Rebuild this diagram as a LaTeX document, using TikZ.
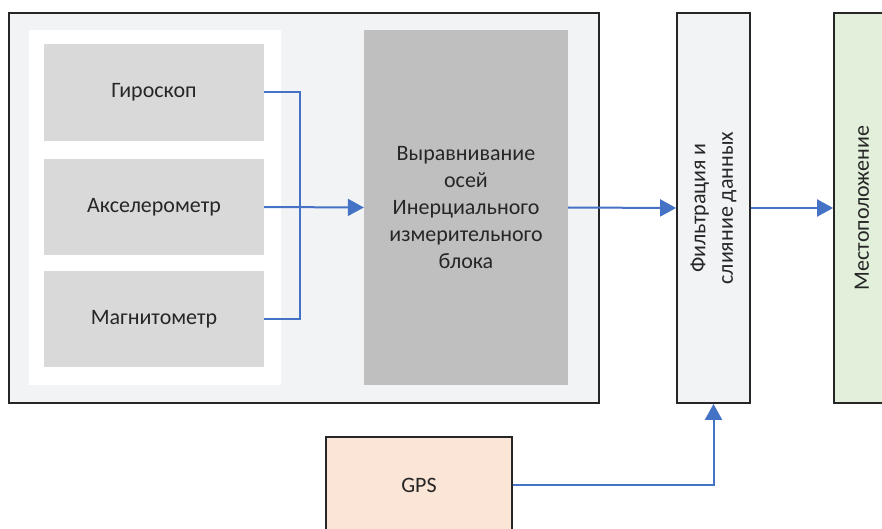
\documentclass[tikz,border=0pt]{standalone}
\usepackage{fontspec}
\setmainfont{Carlito}
\usetikzlibrary{arrows.meta}
\definecolor{frameback}{HTML}{F2F3F5}
\definecolor{sensorfill}{HTML}{D9D9D9}
\definecolor{imufill}{HTML}{BFBFBF}
\definecolor{locfill}{HTML}{E2EFDA}
\definecolor{gpsfill}{HTML}{FBE5D6}
\definecolor{wireblue}{HTML}{4472C4}
\definecolor{inkdark}{HTML}{262626}
\tikzset{
  framed/.style={draw=inkdark, line width=1.8pt, rectangle, inner sep=0pt},
  flat/.style={rectangle, inner sep=0pt, align=center, text=inkdark},
  wire/.style={draw=wireblue, line width=2pt},
  flow/.style={wire, -{Triangle[length=16pt,width=17pt]}},
}
\begin{document}
\begin{tikzpicture}[x=1pt, y=-1pt, font=\fontsize{22}{26.8}\selectfont]
\useasboundingbox (0,0) rectangle (882,529);
\clip (0,0) rectangle (882,529);

% inertial unit housing
\node[framed, fill=frameback, minimum width=590pt, minimum height=390pt] (outer) at (304,208) {};
\node[flat, fill=white, minimum width=252pt, minimum height=355pt] (panel) at (155,207.5) {};

% sensors
\node[flat, fill=sensorfill, minimum width=220pt, minimum height=97pt] (gyro) at (154,92.5) {Гироскоп};
\node[flat, fill=sensorfill, minimum width=220pt, minimum height=96pt] (accel) at (154,207) {Акселерометр};
\node[flat, fill=sensorfill, minimum width=220pt, minimum height=96pt] (mag) at (154,319) {Магнитометр};

% axis alignment
\node[flat, fill=imufill, minimum width=204pt, minimum height=355pt] (imu) at (466,207.5)
  {Выравнивание\\осей\\Инерциального\\измерительного\\блока};

% fusion and output
\node[framed, fill=frameback, minimum width=73pt, minimum height=390pt,
  label={[rotate=90, align=center, text=inkdark, font=\fontsize{22}{27.5}\selectfont]center:Фильтрация и\\слияние данных}]
  (filter) at (713.5,208) {};
\node[framed, fill=locfill, minimum width=56pt, minimum height=390pt,
  label={[rotate=90, text=inkdark]center:Местоположение}]
  (loc) at (862,208) {};

% satellite input
\node[framed, fill=gpsfill, minimum width=186pt, minimum height=96pt, text=inkdark] (gps) at (419,485) {GPS};

% connectors
\coordinate (bus) at (300,207);
\draw[wire] (gyro.east) -| (bus) |- (mag.east);
\draw[flow] (accel.east) -- (imu.west);
\draw[flow] (imu.east) -- (filter.west);
\draw[flow] (filter.east) -- (loc.west);
\draw[flow] (gps.east) -| (filter.south);
\end{tikzpicture}
\end{document}
